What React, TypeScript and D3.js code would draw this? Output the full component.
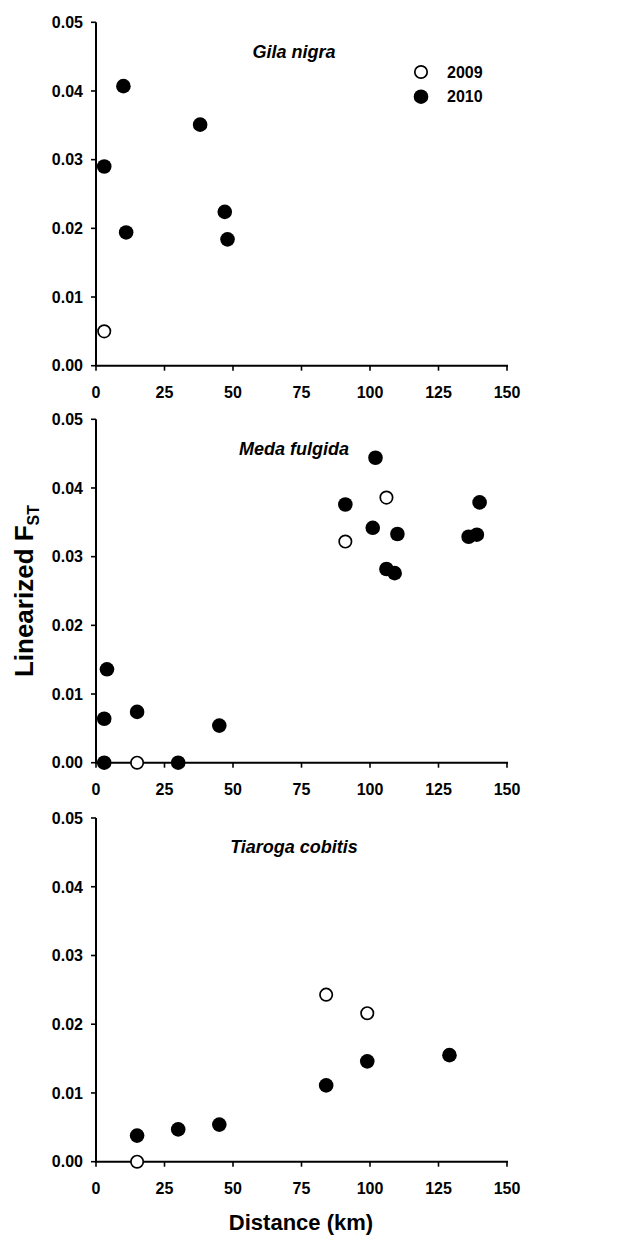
import React from "react";
import * as d3 from "d3";

// ---- Data ----
const xTicks = [0, 25, 50, 75, 100, 125, 150];
const yTicks = [0, 0.01, 0.02, 0.03, 0.04, 0.05];
const legendLabels = ["2009", "2010"];

const gilaDist2009 = [3];
const gilaFst2009 = [0.005];
const gilaDist2010 = [3, 10, 11, 38, 47, 48];
const gilaFst2010 = [0.029, 0.0407, 0.0194, 0.0351, 0.0224, 0.0184];

const medaDist2009 = [15, 91, 106];
const medaFst2009 = [0, 0.0322, 0.0386];
const medaDist2010 = [3, 30, 3, 4, 15, 45, 91, 102, 101, 110, 106, 109, 136, 139, 140];
const medaFst2010 = [0, 0, 0.0064, 0.0136, 0.0074, 0.0054, 0.0376, 0.0444, 0.0342, 0.0333, 0.0282, 0.0276, 0.0329, 0.0332, 0.0379];

const tiaroDist2009 = [15, 84, 99];
const tiaroFst2009 = [0, 0.0243, 0.0216];
const tiaroDist2010 = [15, 30, 45, 84, 99, 129];
const tiaroFst2010 = [0.0038, 0.0047, 0.0054, 0.0111, 0.0146, 0.0155];

const species = ["Gila nigra", "Meda fulgida", "Tiaroga cobitis"];

const panels = [
  { name: species[0], d09: gilaDist2009, f09: gilaFst2009, d10: gilaDist2010, f10: gilaFst2010, top: 22.3, bottom: 365.7, labelY: 58, legend: true },
  { name: species[1], d09: medaDist2009, f09: medaFst2009, d10: medaDist2010, f10: medaFst2010, top: 419.3, bottom: 762.7, labelY: 455, legend: false },
  { name: species[2], d09: tiaroDist2009, f09: tiaroFst2009, d10: tiaroDist2010, f10: tiaroFst2010, top: 818, bottom: 1161.7, labelY: 853, legend: false },
];

const FONT = "'Liberation Sans', Arial, Helvetica, sans-serif";
const W = 633;
const H = 1235;
const LEFT = 96;
const RIGHT = 507;

const x = d3.scaleLinear().domain([0, 150]).range([LEFT, RIGHT]);

function Panel({ p }: { p: (typeof panels)[number] }) {
  const y = d3.scaleLinear().domain([0, 0.05]).range([p.bottom, p.top]);
  const fmt = d3.format(".2f");
  return (
    <g>
      {/* y axis */}
      <line x1={LEFT} x2={LEFT} y1={y(0.05)} y2={y(0) + 1} stroke="#000" strokeWidth={2} />
      {yTicks.map((t) => (
        <g key={"y" + t}>
          <line x1={LEFT - 5} x2={LEFT} y1={y(t)} y2={y(t)} stroke="#000" strokeWidth={1.6} />
          <text x={LEFT - 13} y={y(t)} dy="0.36em" textAnchor="end" fontFamily={FONT} fontWeight="bold" fontSize={16}>
            {fmt(t)}
          </text>
        </g>
      ))}
      {/* x axis */}
      <line x1={LEFT - 1} x2={x(150) + 1} y1={y(0)} y2={y(0)} stroke="#000" strokeWidth={2} />
      {xTicks.map((t) => (
        <g key={"x" + t}>
          <line x1={x(t)} x2={x(t)} y1={y(0)} y2={y(0) + 5} stroke="#000" strokeWidth={1.6} />
          <text x={x(t)} y={y(0) + 32} textAnchor="middle" fontFamily={FONT} fontWeight="bold" fontSize={16}>
            {t}
          </text>
        </g>
      ))}
      {/* species label */}
      <text x={294} y={p.labelY} textAnchor="middle" fontFamily={FONT} fontWeight="bold" fontStyle="italic" fontSize={18}>
        {p.name}
      </text>
      {/* 2010 filled */}
      {p.d10.map((d, i) => (
        <circle key={"f" + i} cx={x(d)} cy={y(p.f10[i])} r={7.3} fill="#000" />
      ))}
      {/* 2009 open */}
      {p.d09.map((d, i) => (
        <circle key={"o" + i} cx={x(d)} cy={y(p.f09[i])} r={6.2} fill="#fff" stroke="#000" strokeWidth={1.7} />
      ))}
      {p.legend && (
        <g>
          <circle cx={421} cy={72} r={6.2} fill="#fff" stroke="#000" strokeWidth={1.7} />
          <circle cx={421} cy={96.7} r={7.3} fill="#000" />
          <text x={447} y={72} dy="0.36em" fontFamily={FONT} fontWeight="bold" fontSize={16}>{legendLabels[0]}</text>
          <text x={447} y={96.7} dy="0.36em" fontFamily={FONT} fontWeight="bold" fontSize={16}>{legendLabels[1]}</text>
        </g>
      )}
    </g>
  );
}

export default function App() {
  return (
    <div style={{ position: "absolute", left: 0, top: 0, width: W, height: H, background: "#fff" }}>
      <svg width={W} height={H} viewBox={`0 0 ${W} ${H}`}>
        <rect width={W} height={H} fill="#fff" />
        {panels.map((p) => (
          <Panel key={p.name} p={p} />
        ))}
        <text transform="translate(33,591) rotate(-90)" textAnchor="middle" fontFamily={FONT} fontWeight="bold" fontSize={26}>
          Linearized F<tspan fontSize={16} dy={6}>ST</tspan>
        </text>
        <text x={301} y={1230} textAnchor="middle" fontFamily={FONT} fontWeight="bold" fontSize={22}>
          Distance (km)
        </text>
      </svg>
    </div>
  );
}
